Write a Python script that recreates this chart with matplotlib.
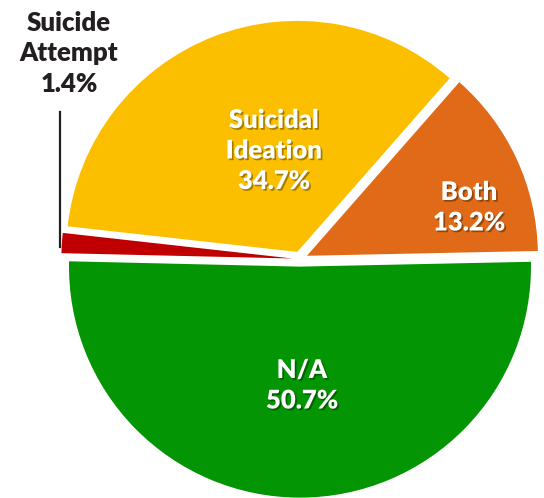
import matplotlib
matplotlib.use("Agg")
import matplotlib.pyplot as plt
import matplotlib.patheffects as pe

categories = ["Both", "Suicidal Ideation", "Suicide Attempt", "N/A"]
values = [13.2, 34.7, 1.4, 50.7]
colors = ["#E06A17", "#FBBF00", "#C00000", "#039503"]
label_lines = [["Both", "13.2%"], ["Suicidal", "Ideation", "34.7%"],
               ["Suicide", "Attempt", "1.4%"], ["N/A", "50.7%"]]

W, H = 544, 498
CX, CY, R = 300, 259, 231

fig = plt.figure(figsize=(W / 100, H / 100), dpi=100)
ax = fig.add_axes([0, 0, 1, 1])

ax.pie(values, colors=colors, startangle=1.2, counterclock=True,
       explode=[0.033] * len(values), radius=1.0,
       wedgeprops=dict(linewidth=0))
ax.set_aspect("auto")
ax.set_xlim(-CX / R, (W - CX) / R)
ax.set_ylim(-(H - CY) / R, CY / R)
ax.axis("off")

def px(x, y):
    return (x - CX) / R, (CY - y) / R

# label placements (pixel x, first baseline y, text colour, shadow)
placements = [(469, 200, "white", True), (274, 128, "white", True),
              (69, 31, "#231F20", False), (302, 378, "white", True)]
step = 30.5
shadow = [pe.SimplePatchShadow(offset=(1.2, -1.2), shadow_rgbFace="black", alpha=0.35), pe.Normal()]
for lines, (x, y0, col, sh) in zip(label_lines, placements):
    for i, line in enumerate(lines):
        tx, ty = px(x, y0 + i * step)
        ax.text(tx, ty, line, ha="center", va="baseline", color=col,
                fontsize=18.5, fontweight="heavy", family=["Lato", "DejaVu Sans"],
                path_effects=shadow if sh else None)

x0, y0 = px(60, 112)
x1, y1 = px(60, 247)
ax.plot([x0, x1], [y0, y1], color="#231F20", linewidth=1.6)

fig.savefig("out.png", dpi=100)
